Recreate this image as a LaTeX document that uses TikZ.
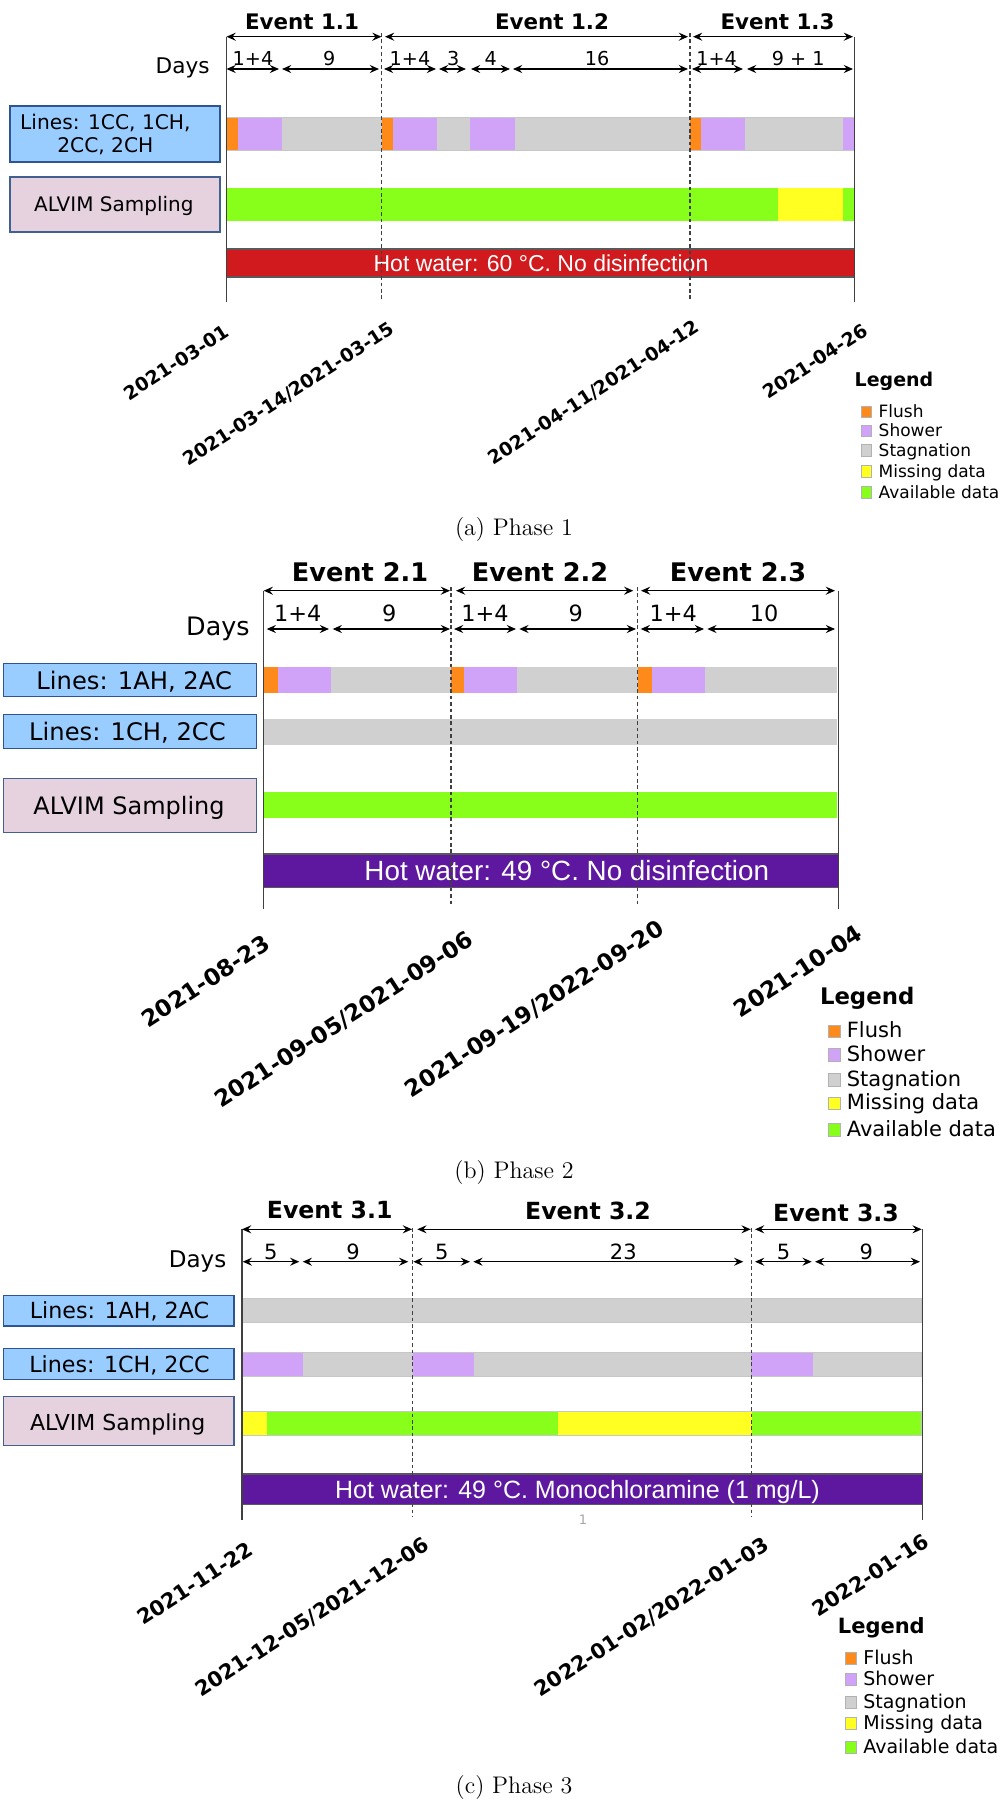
\documentclass[tikz,border=0pt]{standalone}
\usepackage{fontspec}
\usepackage{xcolor,tikz}
\usetikzlibrary{arrows.meta,positioning}
\newfontfamily\dvsans{DejaVu Sans}
\newfontfamily\libsans{Liberation Sans}
\definecolor{tlFlush}{HTML}{FF8A1C}
\definecolor{tlShower}{HTML}{D0A2F8}
\definecolor{tlStag}{HTML}{D0D0D0}
\definecolor{tlMiss}{HTML}{FFFF22}
\definecolor{tlAvail}{HTML}{88FF1A}
\definecolor{tlHotRed}{HTML}{D01A1E}
\definecolor{tlHotPurple}{HTML}{5E18A0}
\definecolor{tlBoxBlue}{HTML}{99CCFF}
\definecolor{tlBoxBlueLine}{HTML}{2E5590}
\definecolor{tlBoxPink}{HTML}{E6D1DE}
\definecolor{tlBoxPinkLine}{HTML}{41608F}
\definecolor{tlAxis}{HTML}{404040}

\tikzset{
  dimarrow/.style={{Stealth[length=4.6pt,width=4pt,inset=1.6pt]}-{Stealth[length=4.6pt,width=4pt,inset=1.6pt]}, line width=0.6pt},
  axisline/.style={draw=tlAxis, line width=0.7pt},
  eventline/.style={draw=tlAxis, line width=0.6pt, dash pattern=on 1.8pt off 1.4pt},
  evlabel/.style={anchor=base, inner sep=0pt, font={\dvsans\bfseries\fontsize{#1}{#1}\selectfont}},
  daylabel/.style={anchor=base, inner sep=0pt, font={\dvsans\fontsize{#1}{#1}\selectfont}},
  boxtext/.style={anchor=base, inner sep=0pt, font={\dvsans\fontsize{#1}{#1}\selectfont}},
  linesbox/.style={draw=tlBoxBlueLine, fill=tlBoxBlue, line width=0.7pt},
  samplebox/.style={draw=tlBoxPinkLine, fill=tlBoxPink, line width=0.7pt},
  barframe/.style={draw=black!22, line width=0.4pt},
  hotbar/.style={draw=black!65, line width=0.6pt},
  hottext/.style={anchor=base, inner sep=0pt, text=white, font={\libsans\fontsize{#1}{#1}\selectfont}},
  datelabel/.style={anchor=north east, inner sep=0pt, rotate=33, font={\dvsans\bfseries\fontsize{#1}{#1}\selectfont}},
  legtitle/.style={anchor=base west, inner sep=0pt, font={\dvsans\bfseries\fontsize{#1}{#1}\selectfont}},
  legitem/.style={anchor=base west, inner sep=0pt, font={\dvsans\fontsize{#1}{#1}\selectfont}},
  legswatch/.style={draw=black!30, line width=0.3pt},
  captext/.style={anchor=base, inner sep=0pt, font=\fontsize{12}{14}\selectfont}
}

\begin{document}
\begin{tikzpicture}[x=0.5pt,y=-0.5pt]
\useasboundingbox (0,0) rectangle (1004,1800);

%% PHASE 1 ============================================================

% --- ROW BOXES ---
\draw[linesbox] (10,106) rectangle (220,162);
\node[inner sep=0pt, align=center, font={\dvsans\fontsize{10.1}{11.85}\selectfont}]
  (linesA) at (105.4,134.5) {Lines: 1CC, 1CH,\\2CC, 2CH};
\draw[samplebox] (10,177) rectangle (220,232);
\node[boxtext=10] (alvimA) at (113.8,211.7) {ALVIM Sampling};

% --- BARS ---
\foreach \xa/\xb/\col in {226.5/238/tlFlush, 238/282/tlShower, 282/381.7/tlStag,
    381.7/393/tlFlush, 393/437/tlShower, 437/470/tlStag, 470/515/tlShower,
    515/690/tlStag, 690/701/tlFlush, 701/745/tlShower, 745/843/tlStag, 843/854.5/tlShower}
  \fill[\col] (\xa,117) rectangle (\xb,150);
\draw[barframe] (226.5,117) rectangle (854.5,150);
\foreach \xa/\xb/\col in {226.5/778/tlAvail, 778/843/tlMiss, 843/854.5/tlAvail}
  \fill[\col] (\xa,188) rectangle (\xb,221);
\filldraw[hotbar, fill=tlHotRed] (226.5,249) rectangle (854.5,277);
\node[hottext=11.5] (hotA) at (541,271.7) {Hot water: 60 °C. No disinfection};

% --- FRAME AND EVENT LINES ---
\draw[axisline] (226.5,36.7) -- (226.5,301.7);
\draw[axisline] (854.5,36.7) -- (854.5,301.7);
\foreach \xd in {381.7, 690}
  \draw[eventline] (\xd,33) -- (\xd,301.7);

% --- EVENTS AND DAYS ---
\foreach \xa/\xb in {226.5/381.5, 385/688, 693/853}
  \draw[dimarrow] (\xa,36.7) -- (\xb,36.7);
\foreach \xc/\lab [count=\i] in {302/Event 1.1, 552/Event 1.2, 777.5/Event 1.3}
  \node[evlabel=10.7] (evA\i) at (\xc,29.3) {\lab};
\node[daylabel=10.8, anchor=base east] (daysA) at (210,73.3) {Days};
\foreach \xa/\xb in {226.5/279, 282/379, 384/436, 439/466, 471/510, 513/688, 692/743, 747/853}
  \draw[dimarrow] (\xa,69) -- (\xb,69);
\foreach \xc/\lab [count=\i] in {253/1+4, 329.3/9, 410/1+4, 453.3/3, 490.7/4, 597/16,
    716.7/1+4, 798.3/9 + 1}
  \node[daylabel=9.6] (dayA\i) at (\xc,65.7) {\lab};

% --- DATES ---
\foreach \xd/\yd/\lab [count=\i] in {223.3/323.3/2021-03-01, 388.3/320/{2021-03-14/2021-03-15},
    693.3/318.3/{2021-04-11/2021-04-12}, 861.7/321.7/2021-04-26}
  \node[datelabel=9.4] (dateA\i) at (\xd,\yd) {\lab};

% --- LEGEND ---
\node[legtitle=9.5] (legA) at (854.3,386.7) {Legend};
\foreach \yb/\col/\txt [count=\i] in {417.7/tlFlush/Flush, 436.7/tlShower/Shower,
    456/tlStag/Stagnation, 477.3/tlMiss/Missing data, 498.3/tlAvail/Available data} {
  \filldraw[legswatch, fill=\col] (861,\yb-11.7) rectangle (871.7,\yb);
  \node[legitem=8.5] (legA\i) at (878.3,\yb) {\txt};
}
\node[captext] (capA) at (514,535) {(a) Phase 1};

%% PHASE 2 ============================================================

% --- ROW BOXES ---
\draw[linesbox] (3.3,663.3) rectangle (256.3,696.7);
\node[boxtext=12.1] (linesBa) at (134.2,689.3) {Lines: 1AH, 2AC};
\draw[linesbox] (3.3,714.7) rectangle (256.3,748.7);
\node[boxtext=12.1] (linesBb) at (127.5,740.7) {Lines: 1CH, 2CC};
\draw[samplebox] (3.3,778.7) rectangle (256.3,832.3);
\node[boxtext=12] (alvimB) at (129,814) {ALVIM Sampling};

% --- BARS ---
\foreach \xa/\xb/\col in {263.7/277.7/tlFlush, 277.7/331/tlShower, 331/450.7/tlStag,
    450.7/464/tlFlush, 464/517.3/tlShower, 517.3/637.7/tlStag,
    637.7/652.3/tlFlush, 652.3/705.3/tlShower, 705.3/837.3/tlStag}
  \fill[\col] (\xa,666.7) rectangle (\xb,693.3);
\fill[tlStag] (263.7,719) rectangle (837.3,744.7);
\fill[tlAvail] (263.7,792.3) rectangle (837.3,818.3);
\filldraw[hotbar, fill=tlHotPurple] (263.7,854) rectangle (838.7,887.3);
\node[hottext=13.9] (hotB) at (566.8,880.3) {Hot water: 49 °C. No disinfection};

% --- FRAME AND EVENT LINES ---
\draw[axisline] (263.7,590.7) -- (263.7,909);
\draw[axisline] (838.7,590.7) -- (838.7,909);
\foreach \xd in {451, 637.7}
  \draw[eventline] (\xd,587) -- (\xd,905);

% --- EVENTS AND DAYS ---
\foreach \xa/\xb in {263.7/450, 456/633.3, 641/835}
  \draw[dimarrow] (\xa,590.7) -- (\xb,590.7);
\foreach \xc/\lab [count=\i] in {360/Event 2.1, 540/Event 2.2, 738/Event 2.3}
  \node[evlabel=12.8] (evB\i) at (\xc,581.7) {\lab};
\node[daylabel=12.7, anchor=base east] (daysB) at (250,635) {Days};
\foreach \xa/\xb in {266.7/329, 332.7/450, 454/516, 519.3/636, 640.7/704, 707.3/835}
  \draw[dimarrow] (\xa,629) -- (\xb,629);
\foreach \xc/\lab [count=\i] in {297.8/1+4, 389.3/9, 485/1+4, 575.7/9, 673.3/1+4, 764.2/10}
  \node[daylabel=11.2] (dayB\i) at (\xc,621.7) {\lab};

% --- DATES ---
\foreach \xd/\yd/\lab [count=\i] in {262.5/933.3/2021-08-23, 466/929/{2021-09-05/2021-09-06},
    656.3/918.3/{2021-09-19/2022-09-20}, 854.8/923.3/2021-10-04}
  \node[datelabel=11.5] (dateB\i) at (\xd,\yd) {\lab};

% --- LEGEND ---
\node[legtitle=11.4] (legB) at (819.6,1004) {Legend};
\foreach \yb/\col/\txt [count=\i] in {1037.3/tlFlush/Flush, 1061/tlShower/Shower,
    1086/tlStag/Stagnation, 1109.3/tlMiss/Missing data, 1136/tlAvail/Available data} {
  \filldraw[legswatch, fill=\col] (828,\yb-12.5) rectangle (840.7,\yb);
  \node[legitem=10.5] (legB\i) at (846.5,\yb) {\txt};
}
\node[captext] (capB) at (514,1178) {(b) Phase 2};

%% PHASE 3 ============================================================

% --- ROW BOXES ---
\draw[linesbox] (3.3,1295.3) rectangle (234,1326);
\node[boxtext=11.1] (linesCa) at (119.5,1318.3) {Lines: 1AH, 2AC};
\draw[linesbox] (3.3,1348.7) rectangle (234,1379.3);
\node[boxtext=11.1] (linesCb) at (119.5,1372.7) {Lines: 1CH, 2CC};
\draw[samplebox] (3.3,1396.7) rectangle (234,1445.7);
\node[boxtext=11] (alvimC) at (117.7,1430) {ALVIM Sampling};

% --- BARS ---
\fill[tlStag] (242,1298.3) rectangle (921.7,1322.7);
\draw[barframe] (242,1298.3) rectangle (921.7,1322.7);
\foreach \xa/\xb/\col in {242/303.3/tlShower, 303.3/412.7/tlStag, 412.7/474/tlShower,
    474/751/tlStag, 751/812.7/tlShower, 812.7/921.7/tlStag}
  \fill[\col] (\xa,1352) rectangle (\xb,1376);
\draw[barframe] (242,1352) rectangle (921.7,1376);
\foreach \xa/\xb/\col in {242/267/tlMiss, 267/557.7/tlAvail, 557.7/751.7/tlMiss, 751.7/921.7/tlAvail}
  \fill[\col] (\xa,1411) rectangle (\xb,1435.7);
\draw[barframe] (242,1411) rectangle (921.7,1435.7);
\filldraw[hotbar, fill=tlHotPurple] (242,1474) rectangle (922.7,1504.3);
\node[hottext=12.5] (hotC) at (577.5,1498.3) {Hot water: 49 °C. Monochloramine (1 mg/L)};
\node[inner sep=0pt, text=black!35, font={\dvsans\fontsize{6.5}{6.5}\selectfont}] (pageC) at (583,1520) {1};

% --- FRAME AND EVENT LINES ---
\draw[axisline] (242,1229.3) -- (242,1520);
\draw[axisline] (922.7,1229.3) -- (922.7,1520);
\foreach \xd in {412.7, 751.7}
  \draw[eventline] (\xd,1228) -- (\xd,1517);

% --- EVENTS AND DAYS ---
\foreach \xa/\xb in {242/412, 417.3/750.7, 755/921.7}
  \draw[dimarrow] (\xa,1229.3) -- (\xb,1229.3);
\foreach \xc/\yc/\lab [count=\i] in {329.7/1218.3/Event 3.1, 588/1219.3/Event 3.2, 836/1221.7/Event 3.3}
  \node[evlabel=11.8] (evC\i) at (\xc,\yc) {\lab};
\node[daylabel=11.5, anchor=base east] (daysC) at (226.7,1267) {Days};
\foreach \xa/\xb in {242.7/299.3, 302.7/408.3, 413.3/470, 473.3/743.3, 755/811.7, 815/920}
  \draw[dimarrow] (\xa,1261.7) -- (\xb,1261.7);
\foreach \xc/\lab [count=\i] in {270.8/5, 353/9, 441.8/5, 623.3/23, 783.5/5, 866.3/9}
  \node[daylabel=10.5] (dayC\i) at (\xc,1259.3) {\lab};

% --- DATES ---
\foreach \xd/\yd/\lab [count=\i] in {246.5/1540/2021-11-22, 422.6/1535/{2021-12-05/2021-12-06},
    762/1535/{2022-01-02/2022-01-03}, 922/1531.7/2022-01-16}
  \node[datelabel=10.4] (dateC\i) at (\xd,\yd) {\lab};

% --- LEGEND ---
\node[legtitle=10.5] (legC) at (837.5,1633.3) {Legend};
\foreach \yb/\col/\txt [count=\i] in {1664/tlFlush/Flush, 1685.3/tlShower/Shower,
    1708/tlStag/Stagnation, 1729.3/tlMiss/Missing data, 1753.3/tlAvail/Available data} {
  \filldraw[legswatch, fill=\col] (845,\yb-11.8) rectangle (856.7,\yb);
  \node[legitem=9.5] (legC\i) at (863,\yb) {\txt};
}
\node[captext] (capC) at (514,1793) {(c) Phase 3};

\end{tikzpicture}
\end{document}
